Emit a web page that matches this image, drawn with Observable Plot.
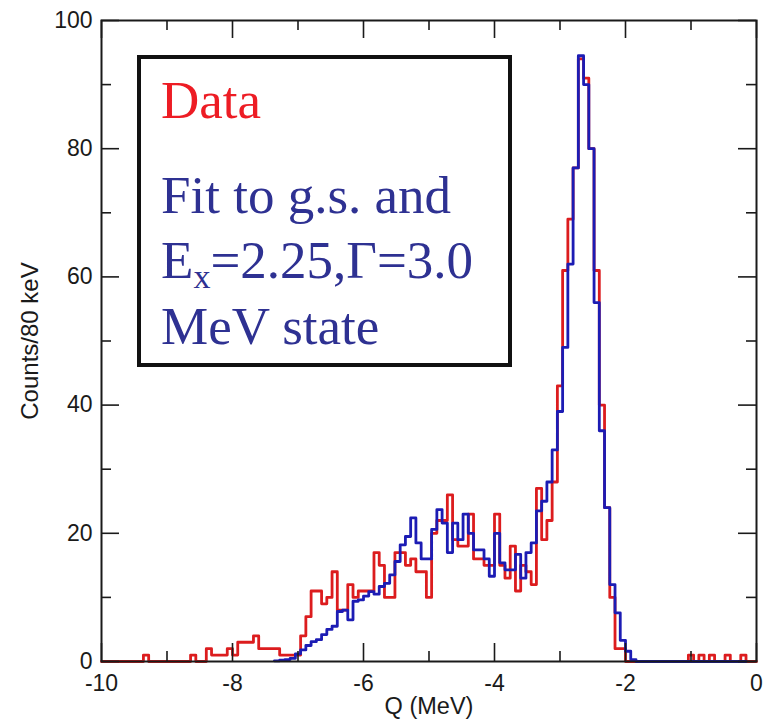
<!DOCTYPE html>
<html>
<head>
<meta charset="utf-8">
<script src="https://cdn.jsdelivr.net/npm/d3@7"></script>
<script src="https://cdn.jsdelivr.net/npm/@observablehq/plot@0.6"></script>
<style>
  body { margin: 0; background: #fff; }
  #chart { width: 777px; height: 726px; }
</style>
</head>
<body>
<div id="chart"></div>
<script>
// Q spectrum, 80 keV bins starting at Q = -10 MeV
const binStart = -10;
const binWidth = 0.08;

// measured counts per bin (125 bins, -10 … 0 MeV)
const dataCounts = [
  0, 0, 0, 0, 0, 0, 0, 0, 1, 0,
  0, 0, 0, 0, 0, 0, 0, 1, 0, 0,
  2, 1, 1, 1, 2, 1, 3, 3, 3, 4,
  2, 2, 2, 2, 1, 1, 1, 1, 4, 7,
  11, 11, 9, 10, 14, 8, 8, 12, 10, 11,
  11, 11, 17, 15, 10, 10, 17, 17, 15, 16,
  14, 14, 10, 20, 22, 22, 26, 19, 18, 18,
  23, 16, 16, 15, 15, 23, 15, 13, 18, 11,
  15, 14, 12, 27, 19, 22, 28, 43, 61, 69,
  77, 94, 91, 80, 61, 40, 24, 10, 2, 2,
  0, 0, 0, 0, 0, 0, 0, 0, 0, 0,
  0, 0, 1, 0, 1, 0, 1, 0, 0, 1,
  0, 0, 1, 0, 0
];

// fit (g.s. + Ex=2.25, Γ=3.0 MeV state), starting at bin 33
const fitStartBin = 33;
const fitCounts = [
  0.1,
  0.2, 0.3, 0.5, 1.2, 1.8, 2.5,
  3.1, 3.4, 4.2, 5.0, 5.5, 7.8, 8.0, 6.5, 9.4, 9.6,
  10.2, 10.9, 10.5, 11.7, 12.2, 13.5, 15.6, 18.2, 19.5, 22.4,
  18.5, 16, 16, 20.6, 23.7, 21.6, 17, 21.6, 19, 23,
  20, 17.4, 17.4, 16, 13.3, 20, 15.4, 14.3, 14.3, 16.7,
  13, 17, 18.5, 23.5, 25, 28, 33, 39, 49, 62,
  77, 94.5, 90, 80, 56, 36, 24, 12, 7.6, 3.3,
  1.6, 0.3, 0, 0, 0, 0, 0, 0, 0, 0,
  0, 0, 0, 0, 0, 0, 0, 0, 0, 0,
  0, 0, 0
];

const xMajor = [-10, -8, -6, -4, -2, 0];
const xMinor = [-9, -7, -5, -3, -1];
const yMajor = [0, 20, 40, 60, 80, 100];
const yMinor = [10, 30, 50, 70, 90];

const W = 777, H = 726;
const mL = 101, mR = 21, mT = 20, mB = 65;
const innerW = W - mL - mR, innerH = H - mT - mB;
const majorLen = 18, minorLen = 10;

// histogram outline: one point per bin left edge, closed at the last right edge
function steps(counts, firstBin) {
  const rows = counts.map((c, i) => ({q: binStart + (firstBin + i) * binWidth, c}));
  rows.push({q: binStart + (firstBin + counts.length) * binWidth, c: counts[counts.length - 1]});
  return rows;
}

const red = "#dc1c1e";
const blue = "#1c1cb4";
const ink = "#1a1a1a";
const fmt = d => String(d);

const chart = Plot.plot({
  width: W,
  height: H,
  marginLeft: mL, marginRight: mR, marginTop: mT, marginBottom: mB,
  style: {fontFamily: "'Liberation Sans', Arial, Helvetica, sans-serif", fontSize: "23px", color: ink, background: "#fff"},
  x: {domain: [-10, 0], label: null},
  y: {domain: [0, 100], label: null},
  marks: [
    Plot.line(steps(dataCounts, 0), {x: "q", y: "c", curve: "step-after", stroke: red, strokeWidth: 2.8}),
    Plot.line(steps(fitCounts, fitStartBin), {x: "q", y: "c", curve: "step-after", stroke: blue, strokeWidth: 2.8}),
    // inward ticks on all four sides
    Plot.tickX(xMajor, {x: d => d, insetTop: innerH - majorLen, stroke: ink, strokeWidth: 1.6}),
    Plot.tickX(xMajor, {x: d => d, insetBottom: innerH - majorLen, stroke: ink, strokeWidth: 1.6}),
    Plot.tickX(xMinor, {x: d => d, insetTop: innerH - minorLen, stroke: ink, strokeWidth: 1.6}),
    Plot.tickX(xMinor, {x: d => d, insetBottom: innerH - minorLen, stroke: ink, strokeWidth: 1.6}),
    Plot.tickY(yMajor, {y: d => d, insetRight: innerW - majorLen, stroke: ink, strokeWidth: 1.6}),
    Plot.tickY(yMajor, {y: d => d, insetLeft: innerW - majorLen, stroke: ink, strokeWidth: 1.6}),
    Plot.tickY(yMinor, {y: d => d, insetRight: innerW - minorLen, stroke: ink, strokeWidth: 1.6}),
    Plot.tickY(yMinor, {y: d => d, insetLeft: innerW - minorLen, stroke: ink, strokeWidth: 1.6}),
    Plot.axisX(xMajor, {tickSize: 0, tickPadding: 13, tickFormat: fmt, fontSize: 23, label: null}),
    Plot.axisY(yMajor, {tickSize: 0, tickPadding: 9, tickFormat: fmt, fontSize: 23, label: null}),
    Plot.frame({stroke: ink, strokeWidth: 2}),
    Plot.text(["Q (MeV)"], {frameAnchor: "bottom", dy: 52, fontSize: 23.5, fill: ink}),
    Plot.text(["Counts/80 keV"], {frameAnchor: "left", dx: -71, rotate: -90, textAnchor: "middle", fontSize: 24, fill: ink})
  ]
});

document.getElementById("chart").append(chart);

// annotation box in the upper left of the plot
const svg = d3.select(chart);
const g = svg.append("g")
  .attr("font-family", "'Liberation Serif', 'Times New Roman', serif")
  .attr("font-size", 53)
  .attr("text-anchor", "start");
g.append("rect")
  .attr("x", 139).attr("y", 57).attr("width", 371).attr("height", 308)
  .attr("fill", "#fff").attr("stroke", "#111").attr("stroke-width", 4);
g.append("text").attr("x", 161).attr("y", 118).attr("fill", "#ed1c24").text("Data");
const textBlue = "#2e3192";
g.append("text").attr("x", 161).attr("y", 213).attr("fill", textBlue).text("Fit to g.s. and");
const ex = g.append("text").attr("x", 161).attr("y", 278).attr("fill", textBlue);
ex.append("tspan").text("E");
ex.append("tspan").attr("font-size", 34).attr("dy", 10).text("x");
ex.append("tspan").attr("dy", -10).text("=2.25,Γ=3.0");
g.append("text").attr("x", 161).attr("y", 344).attr("fill", textBlue).text("MeV state");
</script>
</body>
</html>
